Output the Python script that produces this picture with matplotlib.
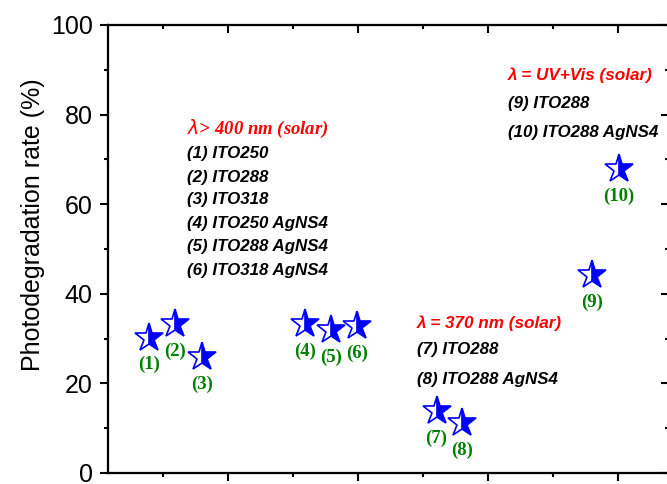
import matplotlib
matplotlib.use("Agg")
import matplotlib.pyplot as plt
from matplotlib.ticker import MultipleLocator

# ---- data ----
sample_ids = ["(1)", "(2)", "(3)", "(4)", "(5)", "(6)", "(7)", "(8)", "(9)", "(10)"]
x_pos = [0.79, 1.19, 1.60, 3.19, 3.59, 3.99, 5.21, 5.60, 7.60, 8.01]
rates = [30.2, 33.3, 25.8, 33.3, 31.9, 32.8, 13.8, 11.2, 44.2, 67.8]

group1_title = r"$\lambda$> 400 nm (solar)"
group1_items = ["(1) ITO250", "(2) ITO288", "(3) ITO318",
                "(4) ITO250 AgNS4", "(5) ITO288 AgNS4", "(6) ITO318 AgNS4"]
group2_title = "λ = 370 nm (solar)"
group2_items = ["(7) ITO288", "(8) ITO288 AgNS4"]
group3_title = "λ = UV+Vis (solar)"
group3_items = ["(9) ITO288", "(10) ITO288 AgNS4"]

W, H = 667, 484
fig = plt.figure(figsize=(W / 100, H / 100), dpi=100)
ax = fig.add_axes([108 / W, 11 / H, (669 - 108) / W, (473 - 25) / H])

sans = "Liberation Sans"
serif = "Liberation Serif"

ax.plot(x_pos, rates, linestyle="none", marker="*", markersize=21,
        fillstyle="right", markerfacecolor="#0000ff", markerfacecoloralt="white",
        markeredgecolor="#0000ff", markeredgewidth=1.2, zorder=3)

for xi, yi, lab in zip(x_pos, rates, sample_ids):
    ax.annotate(lab, (xi, yi), xytext=(0, -19.5), textcoords="offset points",
                ha="center", va="center", color="#008000", fontsize=13.5,
                fontfamily=serif, fontweight="bold")

ax.set_xlim(0.162, 8.78)
ax.set_ylim(0, 100)

ax.xaxis.set_major_locator(MultipleLocator(2))
ax.xaxis.set_minor_locator(MultipleLocator(1))
ax.yaxis.set_major_locator(MultipleLocator(20))
ax.yaxis.set_minor_locator(MultipleLocator(10))
ax.set_xticklabels([])

for s in ax.spines.values():
    s.set_linewidth(1.5)

ax.tick_params(axis="both", which="major", length=6, width=1.5, direction="out")
ax.tick_params(axis="both", which="minor", length=3, width=1.5, direction="out")
ax.tick_params(axis="y", which="both", left=True, right=False, labelsize=18, pad=5)
ax.tick_params(axis="x", which="both", bottom=True, top=False)
for lbl in ax.get_yticklabels():
    lbl.set_fontfamily(sans)

# inward ticks on right and top
ax_r = ax.twinx()
ax_r.set_ylim(ax.get_ylim())
ax_r.yaxis.set_major_locator(MultipleLocator(20))
ax_r.yaxis.set_minor_locator(MultipleLocator(10))
ax_r.tick_params(axis="y", which="both", direction="in", labelright=False, width=1.5)
ax_r.tick_params(axis="y", which="major", length=6)
ax_r.tick_params(axis="y", which="minor", length=3)
ax_t = ax.twiny()
ax_t.set_xlim(ax.get_xlim())
ax_t.xaxis.set_major_locator(MultipleLocator(2))
ax_t.xaxis.set_minor_locator(MultipleLocator(1))
ax_t.tick_params(axis="x", which="both", direction="in", labeltop=False, width=1.5)
ax_t.tick_params(axis="x", which="major", length=6)
ax_t.tick_params(axis="x", which="minor", length=3)
for a in (ax_r, ax_t):
    for s in a.spines.values():
        s.set_linewidth(1.5)

ax.set_ylabel("Photodegradation rate (%)", fontsize=18, fontfamily=sans)
ax.yaxis.set_label_coords(-0.112, 0.554)

# annotation blocks
ax.text(1.377, 76.8, group1_title, color="red", fontsize=13.5, fontfamily=serif,
        fontweight="bold", fontstyle="italic", va="center", ha="left")
y1 = [71.3, 65.9, 61.0, 55.7, 50.5, 45.3]
for t, yy in zip(group1_items, y1):
    ax.text(1.377, yy, t, color="black", fontsize=12.2, fontfamily=sans,
            fontweight="bold", fontstyle="italic", va="center", ha="left")

ax.text(4.91, 33.5, group2_title, color="red", fontsize=12.3, fontfamily=sans,
        fontweight="bold", fontstyle="italic", va="center", ha="left")
for t, yy in zip(group2_items, [27.5, 20.8]):
    ax.text(4.91, yy, t, color="black", fontsize=12.2, fontfamily=sans,
            fontweight="bold", fontstyle="italic", va="center", ha="left")

ax.text(6.31, 88.9, group3_title, color="red", fontsize=12.3, fontfamily=sans,
        fontweight="bold", fontstyle="italic", va="center", ha="left")
for t, yy in zip(group3_items, [82.4, 75.9]):
    ax.text(6.31, yy, t, color="black", fontsize=12.2, fontfamily=sans,
            fontweight="bold", fontstyle="italic", va="center", ha="left")

fig.savefig("out.png", dpi=100)
